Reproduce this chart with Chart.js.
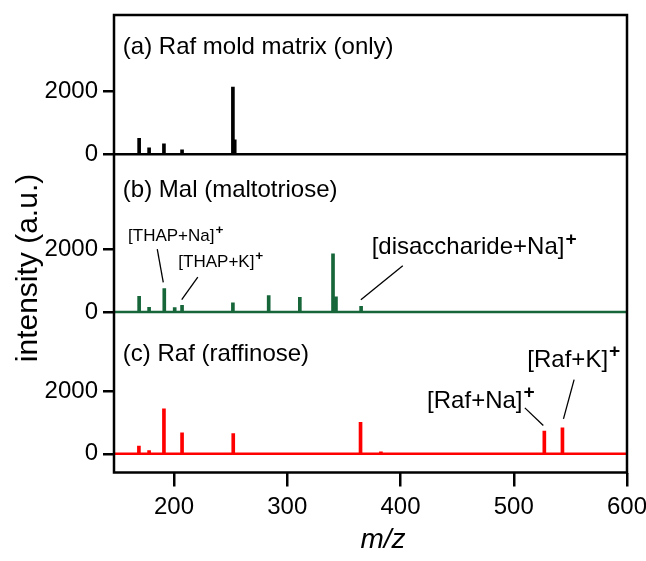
<!DOCTYPE html>
<html><head><meta charset="utf-8">
<script src="https://cdn.jsdelivr.net/npm/chart.js@4"></script>
<style>html,body{margin:0;padding:0;background:#fff;} #wrap{width:646px;height:561px;position:relative;}</style>
</head><body><div id="wrap"><canvas id="c" width="646" height="561"></canvas></div>
<script>
// ---- data ----
const mzA  = [169.2, 178.0, 191.1, 207.1, 252.0, 253.6];
const intA = [510, 210, 330, 140, 2140, 460];
const mzB  = [169.2, 178.0, 191.4, 200.6, 207.1, 252.0, 283.6, 311.1, 340.4, 343.0, 365.2];
const intB = [497, 150, 742, 140, 215, 290, 520, 465, 1845, 480, 180];
const mzC  = [169.0, 178.0, 191.1, 207.1, 252.3, 364.7, 382.7, 527.0, 543.0];
const intC = [242, 105, 1433, 669, 647, 997, 60, 720, 828];
const xTicks = [200, 300, 400, 500, 600];
const yTicks = [0, 2000];
const panelTitles = ['(a) Raf mold matrix (only)', '(b) Mal (maltotriose)', '(c) Raf (raffinose)'];
const annotText = ['[THAP+Na]', '[THAP+K]', '[disaccharide+Na]', '[Raf+Na]', '[Raf+K]'];
const annotPanel = ['yb', 'yb', 'yb', 'yc', 'yc'];
const annotMz = [159.4, 203.8, 374.5, 423.5, 512.0];
const annotInt = [2264, 1438, 1851, 1470, 2772];
const leaderFrom = [[185.2, 2000], [221.0, 1111], [402.0, 1470], [509.8, 1460], [553.3, 2359]];
const leaderTo   = [[190.5, 940], [206.8, 390], [365.0, 390], [526.1, 899], [543.9, 1111]];

const FONT = "'Liberation Sans', Arial, sans-serif";
Chart.defaults.font.family = FONT;
Chart.defaults.color = '#000';

const colA = '#000000', colB = 'rgb(22,102,58)', colC = '#ff0000';
const X_MIN = 147, X_MAX = 600;

function peaks(mz, it) { return mz.map((m, i) => ({x: m, y: it[i]})); }
function baseline() { return [{x: X_MIN, y: 0}, {x: X_MAX, y: 0}]; }

const barDs = (label, d, col, axis) => ({type: 'bar', label, data: d, yAxisID: axis, backgroundColor: col, borderWidth: 0, barThickness: 3, grouped: false});
const lineDs = (label, col, axis) => ({type: 'line', label, data: baseline(), yAxisID: axis, borderColor: col, borderWidth: 2.5, pointRadius: 0, fill: false});

function yAxis(min, max, weight) {
  return {
    type: 'linear', position: 'left', stack: 'spec', stackWeight: weight, min, max,
    afterBuildTicks: ax => { ax.ticks = yTicks.map(v => ({value: v})); },
    afterFit: ax => { ax.width = 114; ax.paddingTop = 0; ax.paddingBottom = 0; },
    grid: {drawOnChartArea: false, drawTicks: true, tickLength: 11, lineWidth: 2.5, color: '#000'},
    border: {display: false},
    ticks: {font: {size: 24}, color: '#000', padding: 5, callback: v => String(v)}
  };
}

const overlay = {
  id: 'overlay',
  afterDatasetsDraw(chart) {
    const ctx = chart.ctx, a = chart.chartArea, xs = chart.scales.x;
    ctx.save();
    // frame
    ctx.strokeStyle = '#000'; ctx.lineWidth = 2.5;
    ctx.strokeRect(a.left, a.top, a.right - a.left, a.bottom - a.top);
    // panel titles
    const pAxes = ['ya', 'yb', 'yc'], pInt = [3175, 3645, 2946];
    ctx.fillStyle = '#000'; ctx.textBaseline = 'alphabetic'; ctx.textAlign = 'left';
    ctx.font = '24px ' + FONT;
    panelTitles.forEach((t, i) => {
      ctx.fillText(t, xs.getPixelForValue(154.8), chart.scales[pAxes[i]].getPixelForValue(pInt[i]));
    });
    // annotations
    annotText.forEach((t, i) => {
      const ys = chart.scales[annotPanel[i]];
      const size = (i < 2) ? 17 : 24;
      const x = xs.getPixelForValue(annotMz[i]), y = ys.getPixelForValue(annotInt[i]);
      ctx.font = size + 'px ' + FONT;
      ctx.fillText(t, x, y);
      const w = ctx.measureText(t).width;
      ctx.font = 'bold ' + (size * 0.8).toFixed(1) + 'px ' + FONT;
      ctx.fillText('+', x + w + 1, y - size * 0.38);
      ctx.beginPath();
      ctx.lineWidth = 1.3;
      ctx.moveTo(xs.getPixelForValue(leaderFrom[i][0]), ys.getPixelForValue(leaderFrom[i][1]));
      ctx.lineTo(xs.getPixelForValue(leaderTo[i][0]), ys.getPixelForValue(leaderTo[i][1]));
      ctx.stroke();
    });
    // axis titles
    ctx.font = '30px ' + FONT; ctx.textAlign = 'center'; ctx.textBaseline = 'middle';
    ctx.save(); ctx.translate(28.5, 268); ctx.rotate(-Math.PI / 2);
    ctx.fillText('intensity (a.u.)', 0, 0); ctx.restore();
    ctx.font = 'italic 28px ' + FONT;
    ctx.fillText('m/z', 383, 540);
    ctx.restore();
  }
};

new Chart(document.getElementById('c'), {
  type: 'bar',
  data: {
    datasets: [
      barDs('a', peaks(mzA, intA), colA, 'ya'), lineDs('a0', colA, 'ya'),
      barDs('b', peaks(mzB, intB), colB, 'yb'), lineDs('b0', colB, 'yb'),
      barDs('c', peaks(mzC, intC), colC, 'yc'), lineDs('c0', colC, 'yc')
    ]
  },
  options: {
    responsive: false, animation: false, devicePixelRatio: 1,
    layout: {padding: {left: 0, top: 15, right: 19, bottom: 0}},
    plugins: {legend: {display: false}, tooltip: {enabled: false}},
    scales: {
      x: {
        type: 'linear', position: 'bottom', min: X_MIN, max: X_MAX, offset: false,
        afterBuildTicks: ax => { ax.ticks = xTicks.map(v => ({value: v})); },
        afterFit: ax => { ax.height = 88.5; ax.paddingLeft = 0; ax.paddingRight = 0; },
        grid: {drawOnChartArea: false, drawTicks: true, tickLength: 14, lineWidth: 2.5, color: '#000', offset: false},
        border: {display: false},
        ticks: {font: {size: 24}, color: '#000', padding: 6, maxRotation: 0, callback: v => String(v)}
      },
      yc: yAxis(-594, 3947, 143),
      yb: yAxis(-562, 4455, 158),
      ya: yAxis(-556, 4429, 157)
    }
  },
  plugins: [overlay]
});
</script>
</body></html>
